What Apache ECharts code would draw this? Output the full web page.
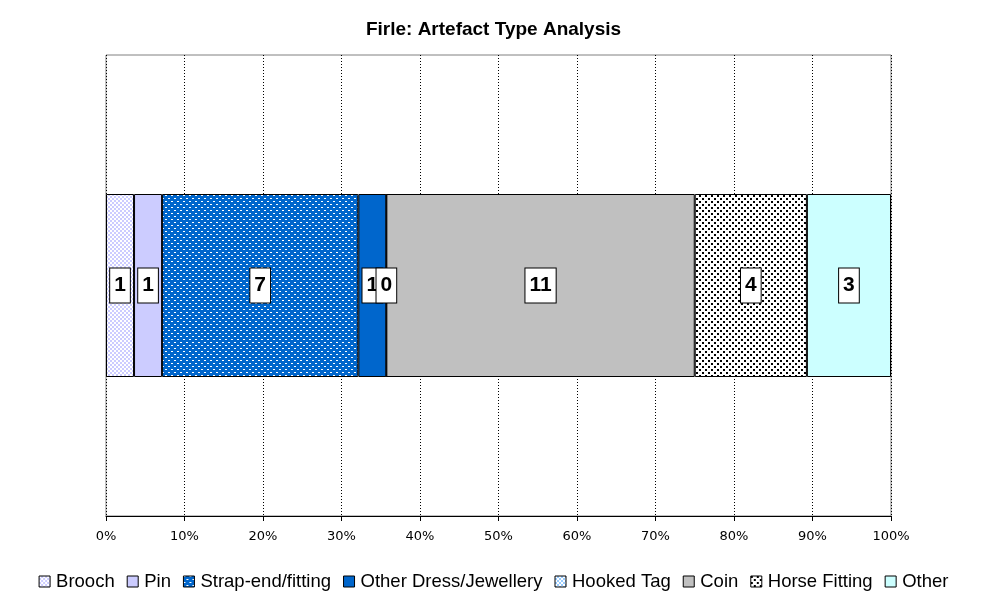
<!DOCTYPE html>
<html><head><meta charset="utf-8">
<script src="https://cdn.jsdelivr.net/npm/echarts@6/dist/echarts.min.js"></script>
<style>html,body{margin:0;padding:0;background:#fff}#c{width:987px;height:606px}</style>
</head><body><div id="c"></div>
<script>
var title = 'Firle: Artefact Type Analysis';
var seriesNames = ['Brooch','Pin','Strap-end/fitting','Other Dress/Jewellery','Hooked Tag','Coin','Horse Fitting','Other'];
var counts = [1,1,7,1,0,11,4,3];
var tickLabels = ['0%','10%','20%','30%','40%','50%','60%','70%','80%','90%','100%'];

function pat(bg, fg, cells, size) {
  var c = document.createElement('canvas');
  c.width = size; c.height = size;
  var g = c.getContext('2d');
  g.fillStyle = bg; g.fillRect(0,0,size,size);
  g.fillStyle = fg;
  cells.forEach(function(p){ g.fillRect(p[0],p[1],p[2],p[3]); });
  return {image: c, repeat: 'repeat'};
}
var fills = [
  pat('#CCCCFF','#FFFFFF',[[0,0,2,2],[2,2,2,2]],4),
  '#CCCCFF',
  pat('#0066CC','#FFFFFF',[[0,0,2,1],[3,3,2,1]],6),
  '#0066CC',
  pat('#99CCFF','#FFFFFF',[[0,0,2,2],[2,2,2,2]],4),
  '#C0C0C0',
  pat('#FFFFFF','#000000',[[0,0,2,2],[3,3,2,2]],6),
  '#CCFFFF'
];

var total = counts.reduce(function(a,b){return a+b;},0);
var series = seriesNames.map(function(n,i){
  return {
    name: n, type: 'bar', stack: 'all', barWidth: 183,
    data: [counts[i] / total * 100],
    itemStyle: {color: fills[i], borderColor: '#000', borderWidth: 1},
    label: {
      show: true, position: 'inside',
      formatter: function(){ return String(counts[i]); },
      fontFamily: 'Liberation Sans, Arial', fontWeight: 'bold', fontSize: 21, color: '#000',
      backgroundColor: '#fff', borderColor: '#000', borderWidth: 1, padding: [7,4,5,4], lineHeight: 22
    }
  };
});

var chart = echarts.init(document.getElementById('c'), null, {renderer: 'canvas'});
chart.setOption({
  animation: false,
  backgroundColor: '#fff',
  title: {text: title, left: 'center', top: 15,
    textStyle: {fontFamily: 'Liberation Sans, Arial', fontWeight: 'bold', fontSize: 19, color: '#000'}},
  grid: {left: 106, right: 96, top: 55, bottom: 90, show: true, borderColor: '#808080', borderWidth: 1},
  legend: {
    bottom: 10, left: 'center', itemWidth: 11, itemHeight: 11, itemGap: 12,
    icon: 'rect',
    itemStyle: {borderColor: '#000', borderWidth: 1},
    textStyle: {fontFamily: 'Liberation Sans, Arial', fontSize: 18.5, color: '#000', padding: [0,0,0,1]},
    data: seriesNames
  },
  xAxis: {
    type: 'value', min: 0, max: 100, interval: 10,
    axisLine: {show: true, lineStyle: {color: '#000', width: 1}},
    axisTick: {show: true, length: 5, lineStyle: {color: '#000'}},
    axisLabel: {formatter: function(v){ return tickLabels[Math.round(v/10)]; },
      fontFamily: 'DejaVu Sans, Tahoma', fontSize: 13, color: '#000', margin: 14},
    splitLine: {show: true, lineStyle: {color: '#000', type: [1,2], width: 1}}
  },
  yAxis: {
    type: 'category', data: [''],
    axisLine: {show: false}, axisTick: {show: false}, axisLabel: {show: false}
  },
  series: series
});
</script></body></html>
